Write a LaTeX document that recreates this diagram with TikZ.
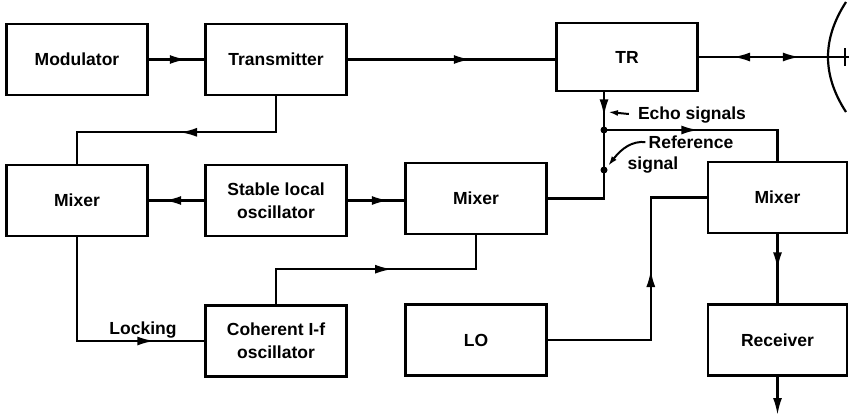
\documentclass[tikz,border=0pt]{standalone}
\usepackage{fontspec}
\setmainfont{Liberation Sans}
\usetikzlibrary{arrows.meta,decorations.markings}
\begin{document}
\begin{tikzpicture}[x=1pt,y=-1pt,
  box/.style={draw,line width=2.6pt,minimum width=141pt,minimum height=71pt,inner sep=0pt,align=center,font=\fontsize{17.5}{23}\selectfont\bfseries},
  wire/.style={line width=2.2pt},
  tip/.style={-{Latex[length=17pt,width=9pt]}},
  marr/.style={postaction={decorate,decoration={markings,mark=at position #1 with {\arrow{Latex[length=17pt,width=9pt]}}}}},
  lbl/.style={font=\fontsize{17.5}{20}\selectfont\bfseries,inner sep=0pt},
  lead/.style={line width=2pt,-{Latex[length=10pt,width=6pt]}},
  dot/.style={circle,fill,inner sep=0pt,minimum size=7pt}]
\useasboundingbox (0,0) rectangle (854,416);
% boxes
\node[box] (mod) at (77,59.5) {Modulator};
\node[box] (tx) at (276,59.5) {Transmitter};
\node[box,minimum height=68pt] (tr) at (627,57) {TR};
\node[box] (mix1) at (77,200.5) {Mixer};
\node[box] (slo) at (276,200.5) {Stable local\\oscillator};
\node[box] (mix2) at (476,198.5) {Mixer};
\node[box,minimum width=139pt] (mix3) at (777.5,197.5) {Mixer};
\node[box] (coh) at (276,341) {Coherent I-f\\oscillator};
\node[box] (lo) at (476,340) {LO};
\node[box,minimum width=139pt] (rx) at (777.5,340) {Receiver};
% antenna
\coordinate (ant) at (849,57);
\draw[wire] (846,2) .. controls (822,39) and (822,75) .. (846,112);
\draw[wire] (845,48) -- (845,66);
% labels
\node[lbl] (lock) at (143,330) {Locking};
\node[lbl] (echo) at (692,115) {Echo signals};
\node[lbl] (ref1) at (691,142) {Reference};
\node[lbl] (ref2) at (653,165) {signal};
% junctions
\coordinate (j1) at (604,130);
\coordinate (j2) at (604,170);
\coordinate (out) at (777.5,415);
% connectors
\draw[wire,marr=38pt] (mod.east) -- (tx.west);
\draw[wire,marr=123pt] (tx.east) -- (tx.east -| tr.west);
\draw[wire,marr=101pt] (tr.east) -- (ant);
\draw[wire,marr=116pt] (ant) -- (tr.east);
\draw[wire,marr=132pt] (tx.south) -- ++(0,36) -| (mix1.north);
\draw[wire,marr=40pt] (slo.west) -- (mix1.east);
\draw[wire,marr=41pt] (slo.east) -- (slo.east -| mix2.west);
\draw[wire,marr=181pt] (mix1.south) |- (coh.west);
\draw[wire,marr=151pt] (coh.north) -- ++(0,-35) -| (mix2.south);
\draw[wire,marr=24pt,marr=132pt] (tr.south -| j1) -- (j1) -| (mix3.north);
\draw[wire] (mix2.east) -| (j1);
\draw[wire,marr=173pt] (lo.east) -- ++(103,0) |- (mix3.west);
\draw[wire,marr=35pt] (mix3.south) -- (rx.north);
\draw[wire,tip] (rx.south) -- (out);
\node[dot] at (j1) {};
\node[dot] at (j2) {};
% leaders
\draw[lead] ([xshift=-9pt,yshift=1pt]echo.west) -- (608,112);
\draw[lead] ([xshift=-3pt]ref1.west) .. controls (632,141) and (622,148) .. (608,166);
\end{tikzpicture}
\end{document}
